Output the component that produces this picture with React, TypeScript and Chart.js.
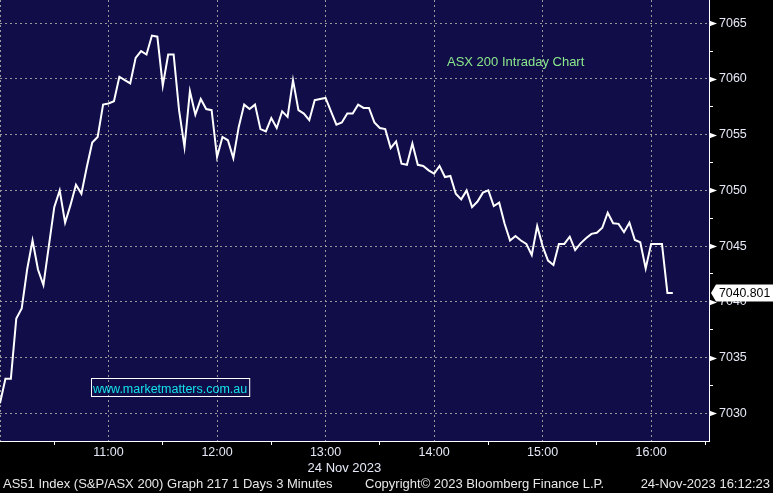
import React, { useEffect, useRef } from "react";
import { Chart, registerables } from "chart.js";

Chart.register(...registerables);

// ---- data ----
const intervalMinutes = 3; // "3 Minutes" bars, first bar at 10:00

const values: number[] = [
  7030.9, 7033.1, 7033.1, 7038.5, 7039.4, 7042.9, 7045.5, 7042.9, 7041.5, 7045.0,
  7048.5, 7050.0, 7047.1, 7048.7, 7050.5, 7049.7, 7052.1, 7054.3, 7054.8, 7057.7,
  7057.8, 7058.0, 7060.2, 7059.9, 7059.6, 7061.9, 7062.5, 7062.2, 7063.9, 7063.8,
  7059.4, 7062.2, 7062.2, 7057.2, 7053.9, 7058.9, 7056.8, 7058.2, 7057.3, 7057.2,
  7053.0, 7054.8, 7054.5, 7052.9, 7055.7, 7057.7, 7057.3, 7057.7, 7055.5, 7055.3,
  7056.5, 7055.6, 7057.1, 7056.6, 7059.9, 7057.2, 7056.9, 7056.3, 7058.1, 7058.2,
  7058.3, 7057.1, 7055.9, 7056.1, 7056.9, 7056.9, 7057.7, 7057.4, 7057.4, 7056.1,
  7055.6, 7055.5, 7053.8, 7054.4, 7052.4, 7052.3, 7054.2, 7052.3, 7052.2, 7051.8,
  7051.5, 7052.2, 7051.2, 7051.3, 7049.7, 7049.2, 7050.0, 7048.5, 7049.0, 7049.8,
  7050.0, 7048.6, 7048.9, 7047.0, 7045.5, 7045.9, 7045.5, 7045.2, 7044.2, 7046.8,
  7045.0, 7043.7, 7043.3, 7045.2, 7045.2, 7045.85, 7044.65, 7045.25, 7045.7, 7046.1,
  7046.2, 7046.65, 7048.0, 7047.05, 7047.0, 7046.25, 7047.1, 7045.55, 7045.35, 7043.0,
  7045.2, 7045.2, 7045.2, 7040.8, 7040.801,
];

const hourTickLabels = ["11:00", "12:00", "13:00", "14:00", "15:00", "16:00"];
const yTickValues = [7030, 7035, 7040, 7045, 7050, 7055, 7060, 7065];
const lastValue = 7040.801;
const lastValueLabel = "7040.801";
const dateLabel = "24 Nov 2023";
const titleText = "ASX 200 Intraday Chart";
const siteText = "www.marketmatters.com.au";
const footerLeft = "AS51 Index (S&P/ASX 200) Graph 217 1 Days 3 Minutes";
const footerMid = "Copyright\u00A9 2023 Bloomberg Finance L.P.";
const footerRight = "24-Nov-2023 16:12:23";

// axis ranges (minutes after 10:00, index points)
const X_MIN = 0;
const X_MAX = 392;
const Y_MIN = 7027.51;
const Y_MAX = 7067.09;

// ---- styles ----
const NAVY = "rgb(16,13,72)";
const GRID = "rgba(160,160,160,0.95)";
const AXIS_TEXT = "#e6e9f7";
const FONT = "'Liberation Sans', Arial, sans-serif";

const points = values.map((v, i) => ({ x: i * intervalMinutes, y: v }));

const decorPlugin = {
  id: "decor",
  beforeDraw(chart: any) {
    const { ctx, chartArea: a } = chart;
    ctx.save();
    ctx.fillStyle = "#000";
    ctx.fillRect(0, 0, chart.width, chart.height);
    ctx.fillStyle = NAVY;
    ctx.fillRect(a.left, a.top, a.right - a.left, a.bottom - a.top);
    ctx.restore();
  },
  afterDraw(chart: any) {
    const { ctx, chartArea: a } = chart;
    const ys = chart.scales.y;
    const xs = chart.scales.x;
    ctx.save();
    // arrow markers on major y ticks
    ctx.fillStyle = "#ffffff";
    for (const v of yTickValues) {
      const py = Math.round(ys.getPixelForValue(v)) + 0.5;
      ctx.beginPath();
      ctx.moveTo(a.right, py - 3);
      ctx.lineTo(a.right + 8, py);
      ctx.lineTo(a.right, py + 3);
      ctx.closePath();
      ctx.fill();
    }

    // title
    ctx.font = `13px ${FONT}`;
    ctx.textBaseline = "alphabetic";
    ctx.textAlign = "left";
    ctx.fillStyle = "rgb(140,232,140)";
    ctx.fillText(titleText, 447, 66);

    // website box
    ctx.font = `12.5px ${FONT}`;
    const tw = ctx.measureText(siteText).width;
    ctx.strokeStyle = "#ffffff";
    ctx.lineWidth = 1;
    ctx.strokeRect(91.5, 378.5, tw + 4, 18);
    ctx.fillStyle = "rgb(20,225,235)";
    ctx.fillText(siteText, 93, 392.5);

    // last value label
    const ly = ys.getPixelForValue(lastValue);
    ctx.fillStyle = "#ffffff";
    ctx.beginPath();
    ctx.moveTo(a.right + 2, ly);
    ctx.lineTo(a.right + 7, ly - 8.5);
    ctx.lineTo(chart.width, ly - 8.5);
    ctx.lineTo(chart.width, ly + 8.5);
    ctx.lineTo(a.right + 7, ly + 8.5);
    ctx.closePath();
    ctx.fill();
    ctx.fillStyle = "#000000";
    ctx.font = `12.3px ${FONT}`;
    ctx.textBaseline = "middle";
    ctx.fillText(lastValueLabel, a.right + 10, ly + 0.5);

    // date under 13:00
    ctx.font = `13px ${FONT}`;
    ctx.textBaseline = "alphabetic";
    ctx.fillStyle = AXIS_TEXT;
    const x13 = xs.getPixelForValue(180);
    ctx.fillText(dateLabel, x13 - 18, 472);

    // footer
    ctx.fillStyle = "#e8e8e8";
    ctx.fillText(footerLeft, 3, 488);
    ctx.fillText(footerMid, 365, 488);
    ctx.textAlign = "right";
    ctx.fillText(footerRight, 770, 488);
    ctx.restore();
  },
};

export default function App() {
  const canvasRef = useRef<HTMLCanvasElement | null>(null);

  useEffect(() => {
    if (!canvasRef.current) return;
    Chart.defaults.font.family = FONT;
    const chart = new Chart(canvasRef.current, {
      type: "line",
      data: {
        datasets: [
          {
            data: points,
            borderColor: "#ffffff",
            borderWidth: 2,
            pointRadius: 0,
            tension: 0,
            fill: false,
          },
        ],
      },
      options: {
        animation: false,
        responsive: false,
        devicePixelRatio: 1,
        layout: { padding: 0 },
        plugins: { legend: { display: false }, tooltip: { enabled: false } },
        scales: {
          x: {
            type: "linear",
            min: X_MIN,
            max: X_MAX,
            afterFit: (s: any) => {
              s.height = 52;
              s.paddingLeft = 0;
              s.paddingRight = 0;
            },
            ticks: {
              stepSize: 30,
              includeBounds: false,
              autoSkip: false,
              maxRotation: 0,
              color: AXIS_TEXT,
              font: { size: 12.5, family: FONT },
              padding: 0,
              callback: (v: any) => {
                const n = Number(v);
                if (n % 60 !== 0 || n === 0) return "";
                return hourTickLabels[n / 60 - 1] ?? "";
              },
            },
            grid: {
              color: (c: any) => (c.tick && c.tick.value % 60 === 0 ? GRID : "transparent"),
              lineWidth: 1,
              drawTicks: true,
              tickLength: 4,
              tickColor: (c: any) => (c.tick && c.tick.value % 60 === 0 ? "transparent" : "#ffffff"),
            },
            border: { display: true, color: "#ffffff", width: 1, dash: [2, 3] },
          },
          y: {
            type: "linear",
            position: "right",
            min: Y_MIN,
            max: Y_MAX,
            afterFit: (s: any) => {
              s.width = 64;
              s.paddingTop = 0;
              s.paddingBottom = 0;
            },
            ticks: {
              stepSize: 2.5,
              includeBounds: false,
              autoSkip: false,
              color: AXIS_TEXT,
              font: { size: 12.5, family: FONT },
              padding: 6,
              callback: (v: any) => {
                const n = Number(v);
                return yTickValues.includes(n) ? String(n) : "";
              },
            },
            grid: {
              color: (c: any) => (c.tick && yTickValues.includes(c.tick.value) ? GRID : "transparent"),
              lineWidth: 1,
              drawTicks: true,
              tickLength: 4,
              tickColor: (c: any) => (c.tick && yTickValues.includes(c.tick.value) ? "transparent" : "#ffffff"),
            },
            border: { display: true, color: "#ffffff", width: 1, dash: [2, 3] },
          },
        },
      },
      plugins: [decorPlugin],
    } as any);
    return () => chart.destroy();
  }, []);

  return (
    <div style={{ position: "fixed", left: 0, top: 0, width: 773, height: 493, background: "#000" }}>
      <canvas ref={canvasRef} width={773} height={493} style={{ display: "block" }} />
    </div>
  );
}
